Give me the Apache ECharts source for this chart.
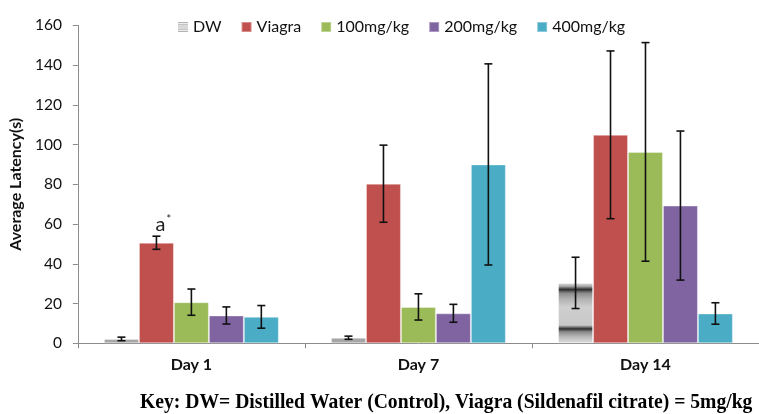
<!DOCTYPE html>
<html><head><meta charset="utf-8">
<script src="https://cdn.jsdelivr.net/npm/echarts@6/dist/echarts.min.js"></script>
<style>html,body{margin:0;padding:0;background:#fff}#c{width:759px;height:414px}</style>
</head><body><div id="c"></div>
<script>
const categories = ['Day 1', 'Day 7', 'Day 14'];
const seriesNames = ['DW', 'Viagra', '100mg/kg', '200mg/kg', '400mg/kg'];
const dwValues = [2.2, 2.8, 30.4];
const dwErr = [0.9, 0.8, 12.9];
const viagraValues = [50.6, 80.3, 104.9];
const viagraErr = [3.3, 19.4, 42.2];
const mg100Values = [20.7, 18.3, 96.3];
const mg100Err = [6.6, 6.6, 55.0];
const mg200Values = [14.0, 15.1, 69.3];
const mg200Err = [4.3, 4.5, 37.5];
const mg400Values = [13.3, 90.0, 15.0];
const mg400Err = [5.7, 50.6, 5.4];
const yTicks = [0, 20, 40, 60, 80, 100, 120, 140, 160];
const annotation = 'a';
const keyText = 'Key: DW= Distilled Water (Control), Viagra (Sildenafil citrate) = 5mg/kg';

const values = [dwValues, viagraValues, mg100Values, mg200Values, mg400Values];
const errs = [dwErr, viagraErr, mg100Err, mg200Err, mg400Err];
const colors = ['#a6a6a6', '#c0504d', '#9bbb59', '#8064a2', '#4bacc6'];
const gapFrac = 0.23;

const dwGradient = new echarts.graphic.LinearGradient(0, 0, 0, 1, [
  {offset: 0, color: '#dadada'}, {offset: 0.05, color: '#b5b5b5'},
  {offset: 0.11, color: '#2e2e2e'}, {offset: 0.17, color: '#8a8a8a'},
  {offset: 0.26, color: '#b0b0b0'}, {offset: 0.4, color: '#cfcfcf'},
  {offset: 0.7, color: '#c8c8c8'}, {offset: 0.76, color: '#2e2e2e'},
  {offset: 0.81, color: '#8a8a8a'}, {offset: 0.9, color: '#bdbdbd'},
  {offset: 1, color: '#dedede'}
]);

const fontSans = 'Lato, "Open Sans", sans-serif';

const series = [];
values.forEach((vals, si) => {
  series.push({
    name: seriesNames[si],
    type: 'bar',
    barGap: '0%',
    barCategoryGap: (gapFrac * 100) + '%',
    itemStyle: {color: colors[si], borderColor: 'rgba(255,255,255,0.35)', borderWidth: 1},
    data: vals.map((v, ci) => {
      const d = {value: v};
      if (si === 0 && ci === 2) d.itemStyle = {color: dwGradient};
      if (si === 1 && ci === 0) d.label = {
        show: true, position: 'top', distance: 8, offset: [7, 0],
        formatter: annotation + '{s|*}',
        fontFamily: fontSans, fontSize: 20, color: '#222',
        rich: {s: {fontSize: 11, verticalAlign: 'top', padding: [0, 0, 10, 1], color: '#222', fontFamily: fontSans}}
      };
      return d;
    }),
    z: 2
  });
});

series.push({
  type: 'custom',
  name: 'err',
  z: 5,
  silent: true,
  data: (function(){
    const out = [];
    values.forEach((vals, si) => vals.forEach((v, ci) => {
      out.push([ci, v - errs[si][ci], v + errs[si][ci], si]);
    }));
    return out;
  })(),
  renderItem: function(params, api) {
    const ci = api.value(0), lo = api.value(1), hi = api.value(2), si = api.value(3);
    const catW = api.size([1, 0])[0];
    const bw = catW * (1 - gapFrac) / 5;
    const c = api.coord([ci, hi]);
    const x = c[0] + (si - 2) * bw;
    const yHi = c[1];
    const yLo = api.coord([ci, lo])[1];
    const cap = 4;
    const st = {stroke: '#111', lineWidth: 1.6};
    return {type: 'group', children: [
      {type: 'line', shape: {x1: x, y1: yHi, x2: x, y2: yLo}, style: st},
      {type: 'line', shape: {x1: x - cap, y1: yHi, x2: x + cap, y2: yHi}, style: st},
      {type: 'line', shape: {x1: x - cap, y1: yLo, x2: x + cap, y2: yLo}, style: st}
    ]};
  }
});

const chart = echarts.init(document.getElementById('c'), null, {renderer: 'canvas'});
chart.setOption({
  animation: false,
  backgroundColor: '#fff',
  grid: {left: 77, right: -7, top: 25.3, bottom: 70.7, containLabel: false},
  legend: {
    left: 172, top: 14, itemWidth: 10, itemHeight: 10, itemGap: 19,
    textStyle: {fontFamily: fontSans, fontSize: 16, color: '#111'},
    data: seriesNames.map((n, i) => i === 0 ? {
      name: n,
      icon: 'path://M0,0H10V1.2H0Z M0,2.2H10V3.4H0Z M0,4.4H10V5.6H0Z M0,6.6H10V7.8H0Z M0,8.8H10V10H0Z',
      itemStyle: {color: '#8a8a8a'}
    } : {name: n, icon: 'rect'})
  },
  xAxis: {
    type: 'category', data: categories,
    axisLine: {lineStyle: {color: '#8c8c8c', width: 1}},
    axisTick: {show: true, length: 5, lineStyle: {color: '#8c8c8c'}},
    axisLabel: {fontFamily: fontSans, fontSize: 16, fontWeight: 'bold', color: '#111', margin: 14}
  },
  yAxis: {
    type: 'value', min: yTicks[0], max: yTicks[yTicks.length - 1], interval: yTicks[1] - yTicks[0],
    name: 'Average Latency(s)', nameLocation: 'middle', nameGap: 51, nameRotate: 90,
    nameTextStyle: {fontFamily: fontSans, fontSize: 16, fontWeight: 'bold', color: '#111'},
    axisLine: {show: true, lineStyle: {color: '#8c8c8c'}},
    axisTick: {show: true, length: 5, lineStyle: {color: '#8c8c8c'}},
    splitLine: {show: false},
    axisLabel: {fontFamily: fontSans, fontSize: 15.5, color: '#111', margin: 16}
  },
  graphic: [{
    type: 'text', left: 140, top: 392, scaleX: 0.935,
    style: {text: keyText, fontFamily: '"Liberation Serif", "Times New Roman", serif', fontSize: 21, fontWeight: 'bold', fill: '#000'}
  }],
  series: series
});
</script></body></html>
